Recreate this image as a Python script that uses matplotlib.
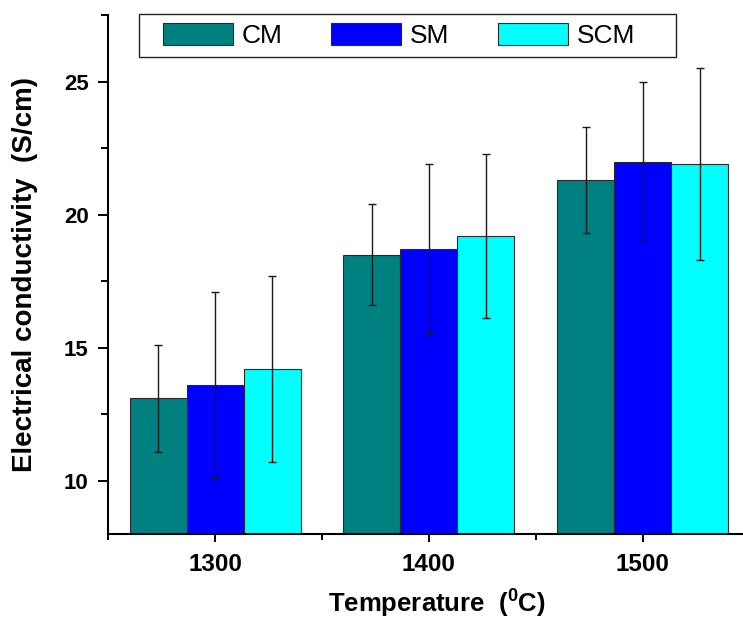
import matplotlib
matplotlib.use("Agg")
import matplotlib.pyplot as plt
from matplotlib.patches import Rectangle
from matplotlib.ticker import MultipleLocator, FixedLocator
import numpy as np

# Sintering temperature (deg C) and measured conductivity (S/cm)
temperatures = [1300, 1400, 1500]
series_names = ["CM", "SM", "SCM"]
cm_values = [13.1, 18.5, 21.3]
cm_errors = [2.0, 1.9, 2.0]
sm_values = [13.6, 18.7, 22.0]
sm_errors = [3.5, 3.2, 3.0]
scm_values = [14.2, 19.2, 21.9]
scm_errors = [3.5, 3.1, 3.6]

colors = ["#008080", "#0000ff", "#00ffff"]

plt.rcParams["font.family"] = ["Liberation Sans", "DejaVu Sans"]

W, H = 743, 619
fig = plt.figure(figsize=(W / 100, H / 100), dpi=100)
ax = fig.add_axes([108.3 / W, 1 - 534 / H, 1 - 108.3 / W, (534 - 15.2) / H])

bar_w = 80 / 3
x = np.array(temperatures, dtype=float)
groups = [(cm_values, cm_errors), (sm_values, sm_errors), (scm_values, scm_errors)]
handles = []
for i, ((vals, errs), name, col) in enumerate(zip(groups, series_names, colors)):
    pos = x + (i - 1) * bar_w
    b = ax.bar(pos, vals, width=bar_w, color=col, edgecolor="#2a2a2a",
               linewidth=0.8, label=name, zorder=2)
    ax.errorbar(pos, vals, yerr=errs, fmt="none", ecolor="#1a1a1a",
                elinewidth=1.0, capsize=3.0, capthick=1.0, zorder=3)
    handles.append(b)

ax.set_xlim(1250, 1547)
ax.set_ylim(8, 27.5)

for side in ("top", "right"):
    ax.spines[side].set_visible(False)
for side in ("left", "bottom"):
    ax.spines[side].set_linewidth(1.5)

ax.xaxis.set_major_locator(FixedLocator(temperatures))
ax.xaxis.set_minor_locator(FixedLocator([1250, 1350, 1450]))
ax.yaxis.set_major_locator(MultipleLocator(5))
ax.yaxis.set_minor_locator(MultipleLocator(2.5))

ax.tick_params(axis="x", which="major", direction="out", length=5.5, width=1.4,
               pad=8, labelsize=17.5)
ax.tick_params(axis="x", which="minor", direction="out", length=4.3, width=1.4)
ax.tick_params(axis="y", which="major", direction="out", length=7.2, width=1.4,
               pad=7, labelsize=16)
ax.tick_params(axis="y", which="minor", direction="out", length=5, width=1.4)
for lab in ax.get_xticklabels() + ax.get_yticklabels():
    lab.set_fontweight("bold")

ax.set_ylabel("Electrical conductivity  (S/cm)", fontsize=20, fontweight="bold")
ax.yaxis.set_label_coords(-0.110, 0.5)
ax.set_xlabel(r"Temperature  ($\mathregular{^{0}}$C)", fontsize=18.5,
              fontweight="bold", va="baseline")
ax.xaxis.set_label_coords(0.518, -0.1517)

# Legend with a plain rectangular frame
leg = fig.legend(handles=handles, labels=series_names, loc="center left",
                 bbox_to_anchor=(163 / W, 1 - 35.5 / H), ncol=3, frameon=False,
                 fontsize=19, handlelength=2.65, handleheight=0.9,
                 handletextpad=0.33, columnspacing=1.85, borderpad=0,
                 borderaxespad=0)
fig.patches.append(Rectangle((139 / W, 1 - 57 / H), (676 - 139) / W, 43 / H,
                             transform=fig.transFigure, fill=False,
                             edgecolor="#222222", linewidth=1.0))

fig.savefig("out.png", dpi=100)
